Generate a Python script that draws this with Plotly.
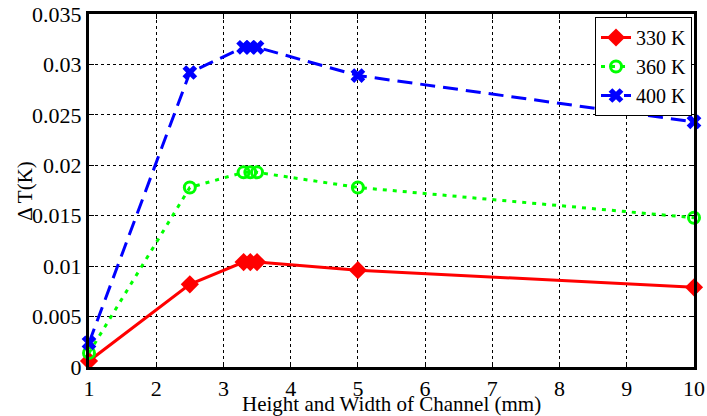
import plotly.graph_objects as go

x_vals = [1, 2.5, 3.3, 3.4, 3.5, 5, 10]
t330 = [0.0006, 0.0082, 0.0104, 0.0104, 0.0104, 0.0096, 0.0079]
t360 = [0.0014, 0.0178, 0.0193, 0.0193, 0.0193, 0.0178, 0.0148]
t400 = [0.0024, 0.0292, 0.0317, 0.0317, 0.0317, 0.0289, 0.0243]

x_ticks = [1, 2, 3, 4, 5, 6, 7, 8, 9, 10]
y_ticks = [0, 0.005, 0.01, 0.015, 0.02, 0.025, 0.03, 0.035]
y_tick_text = ["0", "0.005", "0.01", "0.015", "0.02", "0.025", "0.03", "0.035"]

FONT = "Liberation Serif"
FS = 22

fig = go.Figure()
fig.add_trace(go.Scatter(
    x=x_vals, y=t330, name="330 K", mode="lines+markers",
    line=dict(color="#ff0000", width=3),
    marker=dict(symbol="diamond", size=14, color="#ff0000"),
    cliponaxis=False))
fig.add_trace(go.Scatter(
    x=x_vals, y=t360, name="360 K", mode="lines+markers",
    line=dict(color="#00ff00", width=3, dash="4px,6px"),
    marker=dict(symbol="circle-open", size=11, color="#00ff00", line=dict(width=3)),
    cliponaxis=False))
fig.add_trace(go.Scatter(
    x=x_vals, y=t400, name="400 K", mode="lines+markers",
    line=dict(color="#0000ff", width=3, dash="15px,8px"),
    marker=dict(symbol="x", size=13, color="#0000ff"),
    cliponaxis=False))

axis_common = dict(
    showline=True, linecolor="black", linewidth=3, mirror="ticks",
    ticks="inside", ticklen=5, tickwidth=1, tickcolor="black",
    showgrid=True, gridcolor="black", gridwidth=1, griddash="dot",
    zeroline=False, automargin=False,
    tickfont=dict(family=FONT, size=FS, color="black"),
)

fig.update_xaxes(range=[1, 10], tickvals=x_ticks, **axis_common)
fig.update_yaxes(range=[0, 0.035], tickvals=y_ticks, ticktext=y_tick_text, **axis_common)

fig.add_annotation(text="Height and Width of Channel (mm)", xref="paper", yref="paper",
                   x=0.5, y=-0.104, xanchor="center", yanchor="middle", showarrow=False,
                   font=dict(family=FONT, size=21, color="black"))
fig.add_annotation(text="Δ T(K)", xref="paper", yref="paper",
                   x=-0.107, y=0.5, xanchor="center", yanchor="middle", showarrow=False,
                   textangle=-90, font=dict(family=FONT, size=21, color="black"))

fig.update_layout(
    width=707, height=416,
    margin=dict(l=89, r=13, t=14, b=49),
    paper_bgcolor="white", plot_bgcolor="white",
    font=dict(family=FONT, size=FS, color="black"),
    legend=dict(x=0.9967, y=0.9915, xanchor="right", yanchor="top",
                bgcolor="white", bordercolor="black", borderwidth=1,
                font=dict(family=FONT, size=20, color="black"),
                itemwidth=30, tracegroupgap=0),
    showlegend=True,
)

fig.write_html("out.html", config={"displayModeBar": False},
               post_script="document.body.style.margin='0';")
